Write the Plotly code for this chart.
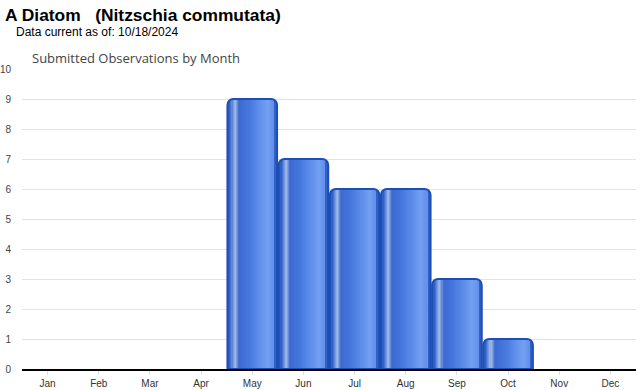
import plotly.graph_objects as go

months = ["Jan", "Feb", "Mar", "Apr", "May", "Jun", "Jul", "Aug", "Sep", "Oct", "Nov", "Dec"]
counts = [0, 0, 0, 0, 9, 7, 6, 6, 3, 1, 0, 0]
y_ticks = list(range(0, 11))

title = "A Diatom   (Nitzschia commutata)"
subtitle = "Data current as of: 10/18/2024"
chart_title = "Submitted Observations by Month"

BAR_W = 0.97
EDGE = "#1c4fb5"
L, R, T, B = 22, 4, 69, 21
W, H = 640, 390

# horizontal gradient profile (fraction across bar, rgb)
stops = [
    (0.00, (40, 85, 190)),
    (0.08, (70, 115, 210)),
    (0.16, (165, 188, 230)),
    (0.24, (60, 105, 210)),
    (0.45, (70, 120, 222)),
    (0.82, (115, 160, 242)),
    (0.92, (100, 145, 235)),
    (1.00, (50, 95, 200)),
]


def color_at(f):
    for (f0, c0), (f1, c1) in zip(stops[:-1], stops[1:]):
        if f0 <= f <= f1:
            t = (f - f0) / (f1 - f0) if f1 > f0 else 0
            c = [round(a + (b - a) * t) for a, b in zip(c0, c1)]
            return "rgb(%d,%d,%d)" % tuple(c)
    return "rgb(%d,%d,%d)" % stops[-1][1]


fig = go.Figure()

# base rounded bar
fig.add_trace(go.Bar(
    x=months, y=counts, width=BAR_W, offset=-BAR_W / 2,
    marker=dict(color=color_at(0.03), line=dict(width=0), cornerradius=6),
    hoverinfo="skip", showlegend=False,
))

# gradient slices (inner part)
n = 40
lo, hi = 0.07, 0.93
for i in range(n):
    f0 = lo + (hi - lo) * i / n
    f1 = lo + (hi - lo) * (i + 1) / n
    fm = (f0 + f1) / 2
    w = (f1 - f0) * BAR_W
    fig.add_trace(go.Bar(
        x=months, y=counts, width=w * 1.05, offset=-BAR_W / 2 + f0 * BAR_W,
        marker=dict(color=color_at(fm), line=dict(width=0)),
        hoverinfo="skip", showlegend=False,
    ))

# outline (hidden for zero values)
fig.add_trace(go.Bar(
    x=months, y=counts, width=BAR_W, offset=-BAR_W / 2,
    marker=dict(color="rgba(0,0,0,0)",
                line=dict(color=EDGE, width=[2 if c > 0 else 0 for c in counts]),
                cornerradius=6),
    showlegend=False,
))

pw = W - L - R
ph = H - T - B


def px_x(p):
    return (p - L) / pw


def px_y(p):
    return 1 + (T - p) / ph


fig.update_layout(
    width=W, height=H,
    margin=dict(l=L, r=R, t=T, b=B),
    paper_bgcolor="white", plot_bgcolor="white",
    barmode="overlay",
    font=dict(family="Arial, Liberation Sans, sans-serif", color="#444"),
    xaxis=dict(
        type="category", categoryorder="array", categoryarray=months,
        showline=True, linecolor="black", linewidth=1.5,
        ticks="outside", ticklen=4, tickcolor="#ddd",
        tickfont=dict(size=10, color="#333"), showgrid=False,
        range=[-0.5, 11.5], automargin=False,
    ),
    yaxis=dict(
        range=[0, 10], tickvals=y_ticks, showgrid=True, gridcolor="#e3e3e3",
        tickfont=dict(size=10, color="#444"), zeroline=False,
        ticks="outside", ticklen=8, tickcolor="rgba(0,0,0,0)", automargin=False,
    ),
    annotations=[
        dict(text="<b>" + title + "</b>", x=px_x(3), y=px_y(15), xref="paper", yref="paper",
             showarrow=False, xanchor="left", yanchor="middle",
             font=dict(size=17.4, color="black", family="Arial, Liberation Sans, sans-serif")),
        dict(text=subtitle, x=px_x(14), y=px_y(32), xref="paper", yref="paper",
             showarrow=False, xanchor="left", yanchor="middle",
             font=dict(size=12, color="black", family="Arial, Liberation Sans, sans-serif")),
        dict(text=chart_title, x=px_x(30), y=px_y(58), xref="paper", yref="paper",
             showarrow=False, xanchor="left", yanchor="middle",
             font=dict(size=13, color="#444", family="Open Sans, sans-serif")),
    ],
)

fig.write_html("out.html")
